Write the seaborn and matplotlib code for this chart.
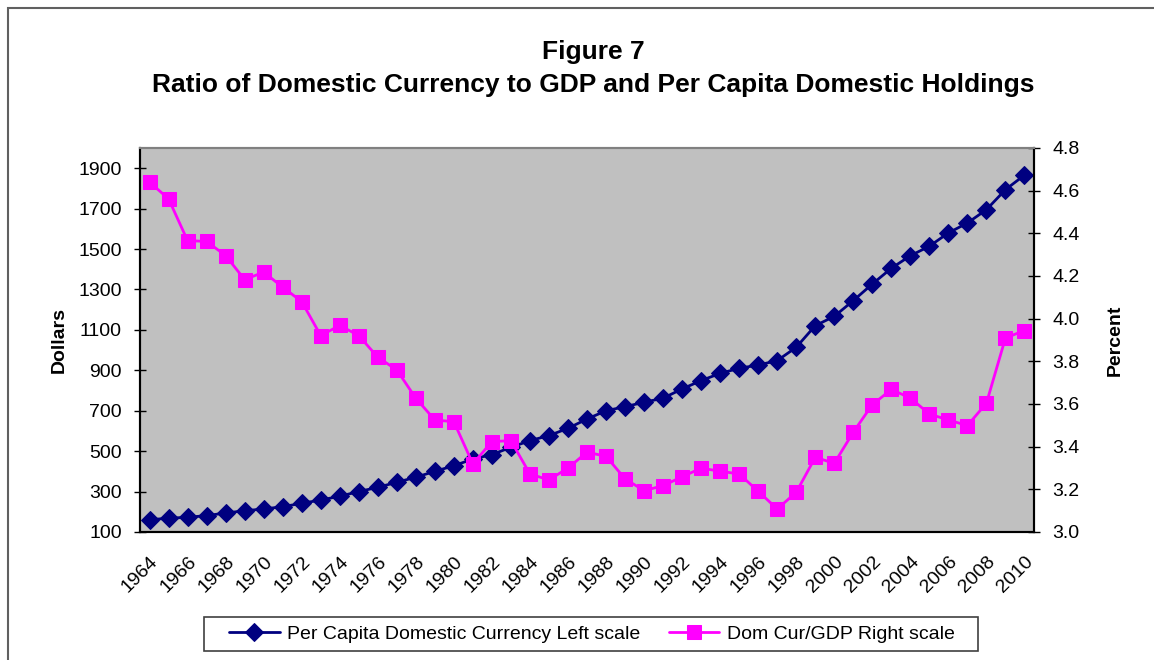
import matplotlib
matplotlib.use("Agg")
import matplotlib.pyplot as plt
import seaborn as sns
import pandas as pd
import numpy as np
from matplotlib.patches import Rectangle

years = list(range(1964, 2011))
per_capita = [161, 168, 173, 181, 194, 205, 214, 225, 242, 258, 277, 300, 321, 346, 371, 400,
              428, 461, 483, 519, 552, 577, 613, 659, 700, 720, 742, 762, 808, 849, 885, 910,
              926, 948, 1014, 1121, 1167, 1245, 1327, 1405, 1467, 1514, 1580, 1629, 1695, 1794, 1866]
cur_gdp = [4.640, 4.562, 4.366, 4.362, 4.296, 4.183, 4.218, 4.148, 4.080, 3.921, 3.968, 3.921,
           3.819, 3.760, 3.627, 3.525, 3.517, 3.319, 3.424, 3.428, 3.272, 3.244, 3.300, 3.374,
           3.355, 3.249, 3.194, 3.217, 3.259, 3.299, 3.285, 3.272, 3.191, 3.108, 3.186, 3.350,
           3.322, 3.468, 3.597, 3.668, 3.628, 3.553, 3.525, 3.499, 3.604, 3.910, 3.944]
left_ticks = [100, 300, 500, 700, 900, 1100, 1300, 1500, 1700, 1900]
right_ticks = [3.0, 3.2, 3.4, 3.6, 3.8, 4.0, 4.2, 4.4, 4.6, 4.8]

sns.set_theme(style="white")
plt.rcParams['font.family'] = ['Liberation Sans', 'DejaVu Sans']
plt.rcParams['text.color'] = 'black'
plt.rcParams['axes.labelcolor'] = 'black'
plt.rcParams['xtick.color'] = 'black'
plt.rcParams['ytick.color'] = 'black'

df = pd.DataFrame({"idx": np.arange(len(years)), "year": years,
                   "per_capita": per_capita, "cur_gdp": cur_gdp})

W, H = 1154, 660
fig = plt.figure(figsize=(W / 100, H / 100), dpi=100)
ax = fig.add_axes([140/W, 1-532/H, (1034-140)/W, (532-148)/H])
ax.set_facecolor("#C0C0C0")
ax2 = ax.twinx()

navy = "#000080"
mag = "#FF00FF"
sns.lineplot(data=df, x="idx", y="per_capita", ax=ax, color=navy, linewidth=2,
             marker="D", markersize=9, markeredgecolor=navy, markerfacecolor=navy,
             label="Per Capita Domestic Currency Left scale", legend=False)
sns.lineplot(data=df, x="idx", y="cur_gdp", ax=ax2, color=mag, linewidth=2,
             marker="s", markersize=10.5, markeredgecolor=mag, markerfacecolor=mag,
             label="Dom Cur/GDP Right scale", legend=False)

n = len(years)
ax.set_xlim(-0.5, n - 0.5)
ax.set_ylim(100, 2000)
ax2.set_ylim(3.0, 4.8)
ax.set_yticks(left_ticks)
ax.set_yticklabels([str(v) for v in left_ticks], fontsize=14)
ax2.set_yticks(right_ticks)
ax2.set_yticklabels([f"{v:.1f}" for v in right_ticks], fontsize=14)

lab_idx = list(range(0, n, 2))
ax.set_xticks(lab_idx)
ax.set_xticklabels([str(years[i]) for i in lab_idx], rotation=45, ha="right",
                   rotation_mode="anchor", fontsize=14)
ax.set_xticks(np.arange(-0.5, n, 1.0), minor=True)
ax.tick_params(axis="x", which="major", length=0, pad=15)
ax.tick_params(axis="x", which="minor", length=9, direction="inout", width=1, color="black")
ax.tick_params(axis="y", which="major", length=9, direction="inout", width=1, color="black", pad=8.5)
ax2.tick_params(axis="y", which="major", length=9, direction="inout", width=1, color="black", pad=8.5)

ax.set_xlabel("")
ax.set_ylabel("Dollars", fontsize=14, fontweight="bold", labelpad=8)
ax2.set_ylabel("Percent", fontsize=14, fontweight="bold", labelpad=20)

for a in (ax, ax2):
    for s in a.spines.values():
        s.set_color("#808080")
        s.set_linewidth(1.5)
    a.spines["left"].set_color("black")
    a.spines["right"].set_color("black")
    a.spines["bottom"].set_color("black")

fig.text(593/W, 1-52/H, "Figure 7", ha="center", va="center",
         fontsize=19, fontweight="bold", color="black")
fig.text(593/W, 1-85/H, "Ratio of Domestic Currency to GDP and Per Capita Domestic Holdings",
         ha="center", va="center", fontsize=19, fontweight="bold", color="black")

h1, l1 = ax.get_legend_handles_labels()
h2, l2 = ax2.get_legend_handles_labels()
leg = fig.legend(h1 + h2, l1 + l2, loc="center", bbox_to_anchor=(592/W, 1-634/H),
                 ncol=2, fontsize=14, frameon=False, handlelength=2.6,
                 columnspacing=1.45, borderpad=0.3, handletextpad=0.4)

fig.patches.append(Rectangle((204/W, 1-651/H), (978-204)/W, 34/H, transform=fig.transFigure,
                             fill=False, edgecolor="#404040", linewidth=1.2))
fig.patches.append(Rectangle((8/W, -0.05), 1.1, 1 - 8/H + 0.05, transform=fig.transFigure,
                             fill=False, edgecolor="#606060", linewidth=1.5))

fig.savefig("out.png", dpi=100)
